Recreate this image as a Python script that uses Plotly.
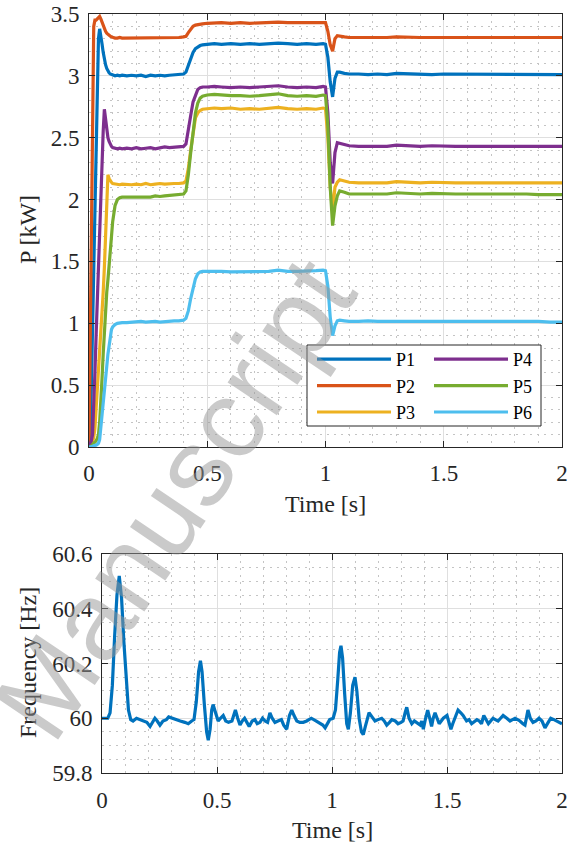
import plotly.graph_objects as go

# ---------------- data ----------------
t_p = [0.0, 0.005, 0.01, 0.015, 0.02, 0.025, 0.03, 0.035, 0.04, 0.045, 0.05, 0.055, 0.06, 0.065,
       0.07, 0.075, 0.08, 0.085, 0.09, 0.095, 0.10, 0.11, 0.12, 0.13, 0.14, 0.16,
       0.18, 0.20, 0.22, 0.24, 0.26, 0.28, 0.30, 0.32, 0.34, 0.36, 0.38, 0.40,
       0.41, 0.42, 0.43, 0.44, 0.45, 0.46, 0.47, 0.48, 0.50,
       0.53, 0.56, 0.60, 0.64, 0.68, 0.72, 0.76, 0.80, 0.84, 0.88, 0.92, 0.96, 0.99, 1.00,
       1.01, 1.02, 1.03, 1.04, 1.05, 1.06, 1.08, 1.10,
       1.14, 1.18, 1.22, 1.26, 1.30, 1.35, 1.40, 1.45, 1.50, 1.55, 1.60, 1.65, 1.70, 1.75,
       1.80, 1.85, 1.90, 1.95, 2.00]

P1 = [0.0, 0.05, 0.5, 1.0, 1.5, 2.0, 2.5, 2.95, 3.3, 3.38, 3.33, 3.26, 3.19, 3.13,
      3.09, 3.06, 3.04, 3.025, 3.015, 3.01, 3.005, 3.0, 3.005, 3.0, 3.005, 3.0,
      3.005, 3.0, 3.005, 2.995, 3.005, 3.0, 3.005, 3.0, 3.005, 3.01, 3.01, 3.015,
      3.03, 3.08, 3.14, 3.19, 3.22, 3.235, 3.245, 3.25, 3.255,
      3.26, 3.255, 3.26, 3.255, 3.26, 3.255, 3.26, 3.265, 3.26, 3.255, 3.26, 3.255, 3.26, 3.255,
      3.15, 2.95, 2.83, 2.98, 3.03, 3.03, 3.02, 3.015,
      3.015, 3.01, 3.015, 3.01, 3.02, 3.015, 3.015, 3.01, 3.015, 3.015, 3.01, 3.01, 3.01, 3.015,
      3.015, 3.01, 3.01, 3.01, 3.01]

P2 = [0.0, 0.9, 1.8, 2.7, 3.40, 3.45, 3.45, 3.46, 3.475, 3.48, 3.46, 3.43, 3.40, 3.38,
      3.36, 3.345, 3.335, 3.325, 3.32, 3.315, 3.31, 3.305, 3.305, 3.31, 3.305, 3.305,
      3.31, 3.305, 3.31, 3.31, 3.305, 3.31, 3.31, 3.305, 3.31, 3.31, 3.31, 3.315,
      3.32, 3.35, 3.38, 3.40, 3.41, 3.415, 3.42, 3.42, 3.425,
      3.43, 3.43, 3.425, 3.43, 3.425, 3.43, 3.43, 3.435, 3.43, 3.43, 3.435, 3.43, 3.435, 3.43,
      3.36, 3.25, 3.20, 3.30, 3.325, 3.32, 3.315, 3.31,
      3.31, 3.31, 3.305, 3.31, 3.315, 3.31, 3.31, 3.31, 3.31, 3.31, 3.31, 3.31, 3.31, 3.31,
      3.31, 3.31, 3.31, 3.31, 3.31]

P3 = [0.0, 0.01, 0.02, 0.04, 0.08, 0.15, 0.3, 0.45, 0.6, 0.75, 0.9, 1.05, 1.25, 1.45,
      1.7, 2.05, 2.2, 2.17, 2.15, 2.14, 2.13, 2.125, 2.12, 2.12, 2.125, 2.12,
      2.12, 2.125, 2.12, 2.13, 2.12, 2.125, 2.13, 2.125, 2.13, 2.13, 2.13, 2.135,
      2.15, 2.25, 2.40, 2.55, 2.66, 2.70, 2.72, 2.73, 2.735,
      2.74, 2.735, 2.74, 2.73, 2.735, 2.73, 2.735, 2.745, 2.735, 2.73, 2.735, 2.73, 2.74, 2.735,
      2.5, 2.1, 1.9, 2.1, 2.14, 2.16, 2.15, 2.14,
      2.135, 2.135, 2.14, 2.135, 2.145, 2.14, 2.135, 2.14, 2.135, 2.135, 2.135, 2.135, 2.135, 2.14,
      2.14, 2.135, 2.135, 2.135, 2.135]

P4 = [0.0, 0.02, 0.05, 0.1, 0.3, 0.6, 0.9, 1.2, 1.45, 1.7, 1.95, 2.25, 2.55, 2.73,
      2.65, 2.56, 2.50, 2.47, 2.445, 2.43, 2.42, 2.415, 2.41, 2.415, 2.41, 2.415,
      2.41, 2.42, 2.41, 2.415, 2.42, 2.41, 2.42, 2.425, 2.42, 2.425, 2.425, 2.43,
      2.45, 2.55, 2.68, 2.79, 2.85, 2.89, 2.905, 2.91, 2.91,
      2.915, 2.91, 2.905, 2.91, 2.905, 2.91, 2.915, 2.92, 2.91, 2.905, 2.91, 2.905, 2.915, 2.91,
      2.7, 2.3, 2.13, 2.38, 2.46, 2.455, 2.44, 2.435,
      2.43, 2.43, 2.435, 2.43, 2.44, 2.435, 2.43, 2.435, 2.43, 2.43, 2.43, 2.43, 2.43, 2.435,
      2.435, 2.43, 2.43, 2.43, 2.43]

P5 = [0.0, 0.0, 0.01, 0.02, 0.03, 0.04, 0.05, 0.07, 0.1, 0.2, 0.35, 0.55, 0.75, 0.95,
      1.1, 1.25, 1.35, 1.45, 1.55, 1.7, 1.82, 1.95, 2.0, 2.015, 2.02, 2.02,
      2.025, 2.02, 2.025, 2.02, 2.02, 2.03, 2.025, 2.03, 2.035, 2.035, 2.04, 2.045,
      2.07, 2.2, 2.38, 2.55, 2.70, 2.78, 2.82, 2.835, 2.845,
      2.85, 2.845, 2.84, 2.84, 2.835, 2.84, 2.845, 2.855, 2.84, 2.835, 2.84, 2.835, 2.845, 2.84,
      2.6, 2.1, 1.79, 1.95, 2.03, 2.07, 2.06, 2.045,
      2.045, 2.045, 2.05, 2.045, 2.055, 2.05, 2.045, 2.05, 2.045, 2.045, 2.045, 2.045, 2.045, 2.05,
      2.05, 2.045, 2.04, 2.04, 2.04]

P6 = [0.0, 0.0, 0.0, 0.005, 0.01, 0.01, 0.015, 0.02, 0.03, 0.06, 0.15, 0.25, 0.35, 0.45,
      0.55, 0.65, 0.75, 0.83, 0.90, 0.95, 0.97, 0.99, 1.0, 1.005, 1.005, 1.005,
      1.01, 1.01, 1.015, 1.01, 1.015, 1.015, 1.01, 1.015, 1.02, 1.02, 1.02, 1.025,
      1.04, 1.1, 1.2, 1.29, 1.36, 1.40, 1.415, 1.42, 1.42,
      1.425, 1.42, 1.415, 1.415, 1.415, 1.42, 1.42, 1.43, 1.42, 1.42, 1.42, 1.425, 1.43, 1.425,
      1.3, 1.05, 0.9, 0.98, 1.02, 1.025, 1.02, 1.015,
      1.015, 1.02, 1.015, 1.015, 1.02, 1.015, 1.015, 1.015, 1.015, 1.015, 1.015, 1.015, 1.015, 1.02,
      1.02, 1.015, 1.015, 1.01, 1.01]

t_f = [0.00, 0.025, 0.035, 0.045, 0.055, 0.065, 0.075, 0.085, 0.095, 0.105, 0.115, 0.125, 0.135,
       0.15, 0.165, 0.18, 0.195, 0.209, 0.22, 0.23, 0.24, 0.252, 0.265, 0.28, 0.29, 0.305, 0.32,
       0.34, 0.36, 0.375, 0.39, 0.40, 0.41, 0.42, 0.428, 0.435, 0.445, 0.455, 0.462, 0.47, 0.477,
       0.483, 0.49, 0.505, 0.515, 0.527, 0.538, 0.55, 0.565, 0.58, 0.59, 0.60, 0.61, 0.62, 0.63,
       0.64, 0.653, 0.665, 0.675, 0.687, 0.698, 0.709, 0.72, 0.73, 0.74, 0.752, 0.765, 0.78, 0.79,
       0.803, 0.815, 0.825, 0.835, 0.847, 0.86, 0.875, 0.89, 0.91, 0.93, 0.948, 0.96, 0.97, 0.98,
       0.99, 1.005, 1.015, 1.025, 1.033, 1.039, 1.046, 1.055, 1.064, 1.071, 1.08, 1.09, 1.10,
       1.108, 1.118, 1.128, 1.136, 1.145, 1.153, 1.161, 1.174, 1.187, 1.20, 1.216, 1.227, 1.238,
       1.25, 1.26, 1.275, 1.287, 1.30, 1.309, 1.318, 1.325, 1.335, 1.347, 1.358, 1.368, 1.383,
       1.39, 1.397, 1.407, 1.416, 1.425, 1.433, 1.44, 1.448, 1.457, 1.466, 1.475, 1.484, 1.50,
       1.51, 1.517, 1.525, 1.53, 1.54, 1.548, 1.56, 1.57, 1.585, 1.596, 1.607, 1.62, 1.63, 1.64,
       1.65, 1.66, 1.67, 1.68, 1.69, 1.70, 1.71, 1.722, 1.733, 1.744, 1.76, 1.774, 1.785, 1.796,
       1.807, 1.817, 1.83, 1.839, 1.845, 1.852, 1.862, 1.874, 1.887, 1.90, 1.913, 1.926, 1.94,
       1.951, 1.965, 1.977, 1.99, 2.00]

freq = [60.00, 60.00, 60.02, 60.12, 60.30, 60.45, 60.52, 60.44, 60.28, 60.13, 60.03, 59.995, 59.99,
        60.0, 59.995, 59.99, 59.985, 59.97, 59.985, 60.0, 59.99, 59.975, 59.99, 59.995, 60.005, 60.0, 59.995,
        59.99, 59.985, 59.98, 59.99, 59.995, 60.06, 60.17, 60.21, 60.17, 60.05, 59.95, 59.92, 59.96, 60.03,
        60.05, 60.03, 59.99, 60.0, 60.01, 59.99, 59.985, 59.99, 60.03, 60.0, 59.975, 59.99, 60.0, 59.985,
        59.97, 59.99, 59.995, 59.98, 59.985, 60.0, 59.99, 59.985, 60.02, 60.0, 59.985, 59.99, 59.995, 59.975,
        59.96, 60.01, 60.03, 60.01, 59.99, 59.985, 59.985, 59.99, 60.0, 59.99, 59.98, 59.975, 59.965, 59.98,
        59.995, 60.0, 60.03, 60.14, 60.24, 60.265, 60.22, 60.09, 59.98, 59.96, 60.02, 60.12, 60.15,
        60.1, 60.0, 59.95, 59.94, 59.97, 60.0, 60.02, 60.005, 59.99, 59.995, 60.0, 59.99, 59.975,
        59.985, 59.995, 59.99, 59.98, 59.985, 59.99, 60.02, 60.04, 60.0, 59.98, 59.99, 59.985, 59.975,
        59.99, 59.96, 60.0, 60.03, 60.0, 59.97, 60.0, 60.02, 60.0, 59.98, 59.99, 60.0, 60.01,
        59.985, 59.96, 59.98, 59.99, 60.01, 60.03, 60.02, 60.01, 59.99, 59.995, 59.98, 59.99, 59.995, 59.99,
        59.98, 60.01, 59.995, 59.98, 59.99, 60.0, 59.995, 59.99, 60.0, 60.01, 60.0, 59.99, 59.995, 60.0,
        59.995, 59.99, 59.98, 59.975, 60.0, 60.03, 60.0, 59.985, 59.99, 60.0, 59.99, 59.965, 59.985,
        60.0, 59.995, 59.99, 59.985, 59.98]

power_series = [("P1", P1), ("P2", P2), ("P3", P3), ("P4", P4), ("P5", P5), ("P6", P6)]
colors = ["#0072BD", "#D95319", "#EDB120", "#7E2F8E", "#77AC30", "#4DBEEE"]

x_ticks = [0, 0.5, 1, 1.5, 2]
x_ticktext = ["0", "0.5", "1", "1.5", "2"]
p_ticks = [0, 0.5, 1, 1.5, 2, 2.5, 3, 3.5]
p_ticktext = ["0", "0.5", "1", "1.5", "2", "2.5", "3", "3.5"]
f_ticks = [59.8, 60.0, 60.2, 60.4, 60.6]
f_ticktext = ["59.8", "60", "60.2", "60.4", "60.6"]

# ---------------- figure ----------------
W, H = 574, 848
SERIF = "Liberation Serif"
INK = "#262626"

fig = go.Figure()
for i, (name, vals) in enumerate(power_series):
    fig.add_trace(go.Scatter(
        x=t_p, y=vals, name=name, mode="lines",
        line=dict(color=colors[i], width=3.2),
        xaxis="x", yaxis="y",
        legend="legend" if i < 3 else "legend2",
    ))

fig.add_trace(go.Scatter(
    x=t_f, y=freq, name="Frequency", mode="lines",
    line=dict(color=colors[0], width=3.2),
    xaxis="x2", yaxis="y2", showlegend=False,
))

common = dict(
    showline=True, linecolor=INK, linewidth=1, mirror="ticks",
    ticks="inside", ticklen=6, tickcolor=INK, tickwidth=1,
    showgrid=True, gridcolor="#dfdfdf", gridwidth=1,
    zeroline=False, automargin=False,
    tickfont=dict(family=SERIF, size=23, color=INK),
)
minor_style = dict(showgrid=True, gridcolor="#c4c4c4", griddash="2px,5px", ticks="")

fig.update_layout(
    width=W, height=H,
    margin=dict(l=0, r=0, t=0, b=0, pad=0, autoexpand=False),
    paper_bgcolor="white", plot_bgcolor="white",
    font=dict(family=SERIF, color=INK),
    showlegend=True,
    xaxis=dict(domain=[89 / W, 562 / W], range=[0, 2], anchor="y",
               tickvals=x_ticks, ticktext=x_ticktext, ticklabelstandoff=5,
               minor=dict(dtick=0.1, **minor_style), **common),
    yaxis=dict(domain=[1 - 447 / H, 1 - 14 / H], range=[0, 3.5], anchor="x",
               tickvals=p_ticks, ticktext=p_ticktext, ticklabelstandoff=4,
               minor=dict(dtick=0.1, **minor_style), **common),
    xaxis2=dict(domain=[102 / W, 562 / W], range=[0, 2], anchor="y2",
                tickvals=x_ticks, ticktext=x_ticktext, ticklabelstandoff=6,
                minor=dict(dtick=0.1, **minor_style), **common),
    yaxis2=dict(domain=[1 - 773 / H, 1 - 554 / H], range=[59.8, 60.6], anchor="x2",
                tickvals=f_ticks, ticktext=f_ticktext, ticklabelstandoff=4,
                minor=dict(dtick=0.05, **minor_style), **common),
    legend=dict(x=312 / W, y=1 - 341 / H, xanchor="left", yanchor="top",
                bgcolor="rgba(0,0,0,0)", borderwidth=0, itemwidth=74,
                font=dict(family=SERIF, size=18, color="black"), tracegroupgap=0),
    legend2=dict(x=429 / W, y=1 - 341 / H, xanchor="left", yanchor="top",
                 bgcolor="rgba(0,0,0,0)", borderwidth=0, itemwidth=74,
                 font=dict(family=SERIF, size=18, color="black"), tracegroupgap=0),
    shapes=[dict(type="rect", xref="paper", yref="paper",
                 x0=307 / W, x1=541 / W, y0=1 - 426 / H, y1=1 - 345 / H,
                 fillcolor="white", line=dict(color=INK, width=1), layer="above")],
)

title_font = dict(family=SERIF, size=24, color=INK)
fig.add_annotation(text="Time [s]", x=325 / W, y=1 - 504 / H, xref="paper", yref="paper",
                   showarrow=False, xanchor="center", yanchor="middle", font=title_font)
fig.add_annotation(text="Time [s]", x=332 / W, y=1 - 830 / H, xref="paper", yref="paper",
                   showarrow=False, xanchor="center", yanchor="middle", font=title_font)
fig.add_annotation(text="P [kW]", x=28 / W, y=1 - 230 / H, xref="paper", yref="paper",
                   showarrow=False, xanchor="center", yanchor="middle", textangle=-90, font=title_font)
fig.add_annotation(text="Frequency [Hz]", x=28 / W, y=1 - 663 / H, xref="paper", yref="paper",
                   showarrow=False, xanchor="center", yanchor="middle", textangle=-90, font=title_font)

# watermark
fig.add_annotation(text="Manuscript", x=174 / W, y=1 - 498 / H, xref="paper", yref="paper",
                   showarrow=False, xanchor="center", yanchor="middle", textangle=-56,
                   font=dict(family="Liberation Sans", size=112,
                             color="rgba(150,150,150,0.5)"))

fig.write_html("out.html")
